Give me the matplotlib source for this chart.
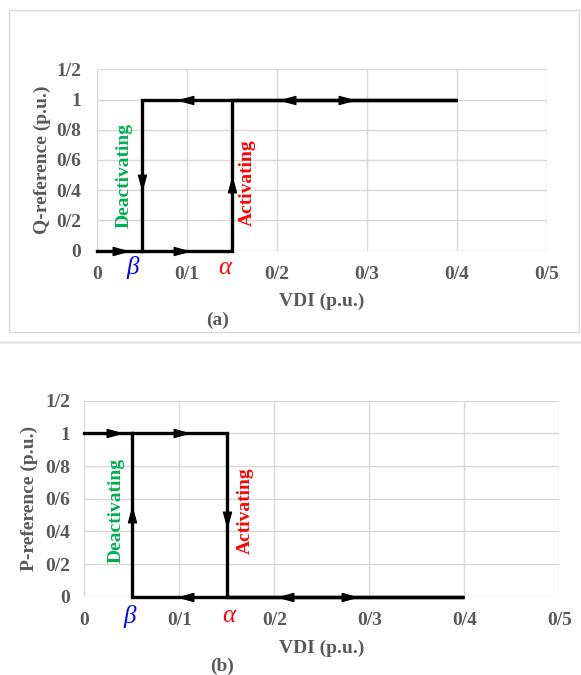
import matplotlib
matplotlib.use("Agg")
import matplotlib.pyplot as plt
from matplotlib.patches import Rectangle
from matplotlib.lines import Line2D
from matplotlib.path import Path
import numpy as np

# axis ticks (labels use '/' as decimal mark, as in the original)
x_ticks = [0.0, 0.1, 0.2, 0.3, 0.4, 0.5]
x_tick_labels = ['0', '0/1', '0/2', '0/3', '0/4', '0/5']
y_ticks = [0.0, 0.2, 0.4, 0.6, 0.8, 1.0, 1.2]
y_tick_labels = ['0', '0/2', '0/4', '0/6', '0/8', '1', '1/2']

beta_vdi = 0.05
alpha_vdi = 0.15

# (a) Q-reference hysteresis path
q_x = [0.0, 0.15, 0.15, 0.40, 0.05, 0.05]
q_y = [0.0, 0.0, 1.0, 1.0, 1.0, 0.0]
q_arrow_x = [0.026, 0.094, 0.099, 0.212, 0.277, 0.05, 0.15]
q_arrow_y = [0.0, 0.0, 1.0, 1.0, 1.0, 0.455, 0.435]
q_arrow_dir = ['r', 'r', 'l', 'l', 'r', 'd', 'u']

# (b) P-reference hysteresis path
p_x = [0.0, 0.15, 0.15, 0.40, 0.05, 0.05]
p_y = [1.0, 1.0, 0.0, 0.0, 0.0, 1.0]
p_arrow_x = [0.031, 0.102, 0.107, 0.212, 0.279, 0.05, 0.15]
p_arrow_y = [1.0, 1.0, 0.0, 0.0, 0.0, 0.50, 0.475]
p_arrow_dir = ['r', 'r', 'l', 'l', 'r', 'u', 'd']

GRAY = '#595959'
GRID = '#D9D9D9'
FONT = 'Liberation Serif'

# arrowhead markers (narrow filled triangles)
h = 0.55
tri = {
    'r': [(-1, -h), (1, 0), (-1, h), (-1, -h)],
    'l': [(1, -h), (-1, 0), (1, h), (1, -h)],
    'u': [(-h, -1), (0, 1), (h, -1), (-h, -1)],
    'd': [(-h, 1), (0, -1), (h, 1), (-h, 1)],
}
markers = {k: Path(v, closed=True) for k, v in tri.items()}

W, H = 581, 675
fig = plt.figure(figsize=(W / 100, H / 100), dpi=100)


def px_box(left, top, right, bottom):
    return [left / W, 1 - bottom / H, (right - left) / W, (bottom - top) / H]


def draw_panel(ax, xs, ys, ax_x, ax_y, ax_d, deact_xy, act_xy,
               beta_x, alpha_x, greek_y, ypad, xpad):
    ax.set_xlim(0, 0.5)
    ax.set_ylim(0, 1.2)
    ax.set_xticks(x_ticks)
    ax.set_xticklabels(x_tick_labels)
    ax.set_yticks(y_ticks)
    ax.set_yticklabels(y_tick_labels)
    for s in ax.spines.values():
        s.set_visible(False)
    ax.grid(True, color=GRID, linewidth=1.0)
    ax.set_axisbelow(True)
    ax.tick_params(length=0, labelcolor=GRAY, labelsize=14)
    ax.tick_params(axis='y', pad=ypad)
    ax.tick_params(axis='x', pad=xpad)
    for lab in ax.get_xticklabels() + ax.get_yticklabels():
        lab.set_fontfamily(FONT)
        lab.set_fontweight('bold')

    ax.plot(xs, ys, color='black', linewidth=2.4, clip_on=False,
            solid_joinstyle='miter', zorder=3)
    for x, y, d in zip(ax_x, ax_y, ax_d):
        ax.plot([x], [y], marker=markers[d], markersize=10.5, color='black',
                linestyle='none', clip_on=False, zorder=4)

    ax.text(deact_xy[0], deact_xy[1], 'Deactivating', rotation=90,
            color='#00B050', fontsize=14, fontweight='bold', family=FONT,
            ha='center', va='center')
    ax.text(act_xy[0], act_xy[1], 'Activating', rotation=90,
            color='#FF0000', fontsize=14, fontweight='bold', family=FONT,
            ha='center', va='center')

    tr = ax.get_xaxis_transform()
    ax.text(beta_x, greek_y, 'β', transform=tr, color='#0000FF',
            fontsize=18, style='italic', family=FONT, ha='center', va='center')
    ax.text(alpha_x, greek_y, 'α', transform=tr, color='#FF0000',
            fontsize=18, style='italic', family=FONT, ha='center', va='center')


# outer frames
fig.add_artist(Rectangle((8.5 / W, 1 - 332 / H), 570 / W, 322 / H,
                         transform=fig.transFigure, fill=False,
                         edgecolor=GRID, linewidth=1.0))
fig.add_artist(Line2D([0, 1], [1 - 342 / H, 1 - 342 / H],
                      transform=fig.transFigure, color='#E6E6E6',
                      linewidth=2.0))

# panel (a)
ax1 = fig.add_axes(px_box(96.7, 69.3, 546.7, 250.7))
draw_panel(ax1, q_x, q_y, q_arrow_x, q_arrow_y, q_arrow_dir,
           (0.031, 0.495), (0.167, 0.45),
           0.040, 0.142, -0.095, 11, 11)
fig.text(42 / W, 1 - 160 / H, 'Q-reference (p.u.)', rotation=90, color=GRAY,
         fontsize=14, fontweight='bold', family=FONT, ha='center', va='center')
fig.text(321.7 / W, 1 - 301 / H, 'VDI (p.u.)', color=GRAY,
         fontsize=14, fontweight='bold', family=FONT, ha='center', va='center')
fig.text(218 / W, 1 - 320 / H, '(a)', color=GRAY,
         fontsize=14, fontweight='bold', family=FONT, ha='center', va='center')

# panel (b)
ax2 = fig.add_axes(px_box(84.3, 400.7, 559.3, 596.7))
draw_panel(ax2, p_x, p_y, p_arrow_x, p_arrow_y, p_arrow_dir,
           (0.034, 0.526), (0.169, 0.53),
           0.048, 0.152, -0.10, 10, 11)
fig.text(29 / W, 1 - 498.7 / H, 'P-reference (p.u.)', rotation=90, color=GRAY,
         fontsize=14, fontweight='bold', family=FONT, ha='center', va='center')
fig.text(321.7 / W, 1 - 648 / H, 'VDI (p.u.)', color=GRAY,
         fontsize=14, fontweight='bold', family=FONT, ha='center', va='center')
fig.text(221.7 / W, 1 - 666 / H, '(b)', color=GRAY,
         fontsize=14, fontweight='bold', family=FONT, ha='center', va='center')

fig.savefig('out.png', dpi=100)
